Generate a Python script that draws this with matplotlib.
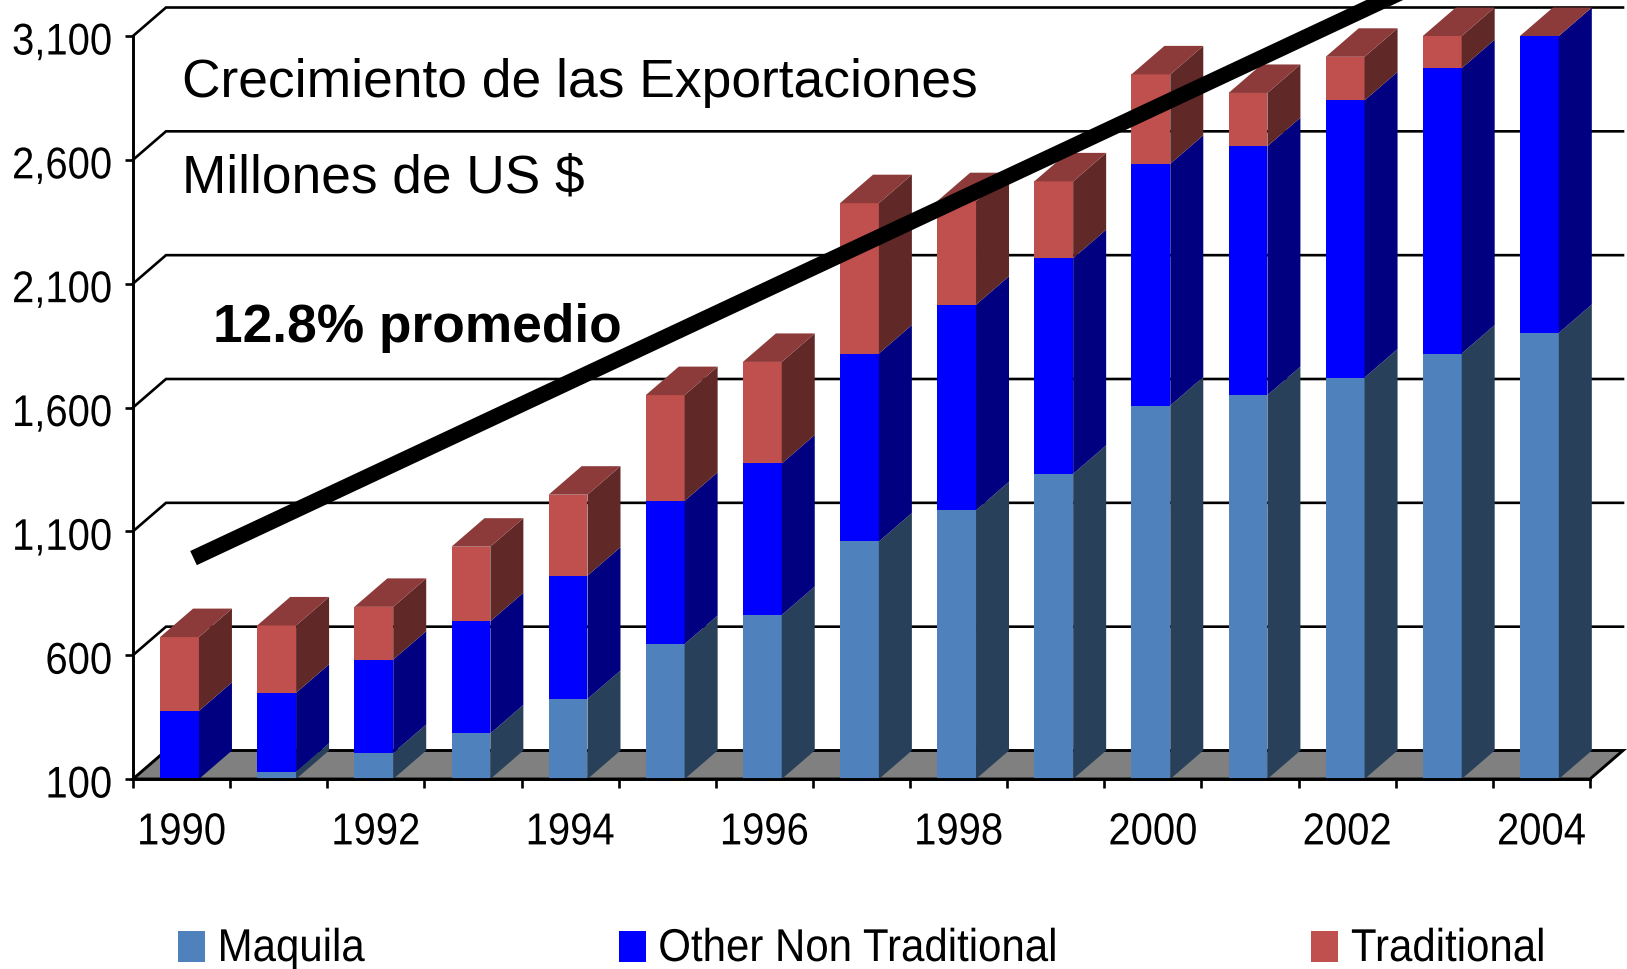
import matplotlib
matplotlib.use("Agg")
import matplotlib.pyplot as plt
import numpy as np
from matplotlib.collections import PolyCollection
from matplotlib.patches import Polygon
from matplotlib.patheffects import AbstractPathEffect
from matplotlib.transforms import Affine2D

years = list(range(1990, 2005))
maquila = [95, 129, 205, 284, 423, 645, 762, 1059, 1185, 1332, 1608, 1650, 1721, 1818, 1901]
other_nt = [280, 319, 377, 453, 498, 578, 612, 759, 830, 871, 976, 1005, 1119, 1152, 1199]
traditional = [298, 272, 213, 301, 327, 427, 410, 607, 418, 310, 361, 215, 176, 130, 0]
series_names = ["Maquila", "Other Non Traditional", "Traditional"]
y_ticks = [100, 600, 1100, 1600, 2100, 2600, 3100]
trend_x = [0.623, 13.25]
trend_y = [992, 3312]

W, H = 1627, 970
px = lambda p: p * 0.72
plt.rcParams["font.family"] = "Liberation Sans"


class Stretch(AbstractPathEffect):
    """Draws the glyphs taller than the font's own proportions (the original text is condensed)."""

    def __init__(self, sy, y0=0.0):
        super().__init__()
        self.sy, self.y0 = sy, y0

    def draw_path(self, renderer, gc, tpath, affine, rgbFace=None):
        t = Affine2D().translate(0, -self.y0).scale(1, self.sy).translate(0, self.y0) + affine
        renderer.draw_path(gc, tpath, t, rgbFace)


fig = plt.figure(figsize=(W / 100, H / 100), dpi=100, facecolor="white")
L, R, T, B = 133, 1590, 37, 780
ax = fig.add_axes([L / W, 1 - B / H, (R - L) / W, (B - T) / H])
ax.set_xlim(0, 15)
ax.set_ylim(100, 3100)
ax.patch.set_visible(False)
for s in ("top", "right"):
    ax.spines[s].set_visible(False)
for s in ("left", "bottom"):
    ax.spines[s].set_linewidth(2.1)
    ax.spines[s].set_zorder(6)

PX_X = (R - L) / 15
PX_Y = (B - T) / 3000
DX = 33 / PX_X
DY = 28.5 / PX_Y
BAR_W = 0.40
OFF = 0.479
x = np.arange(15)

# floor and wall
floor = Polygon([(0, 100), (15, 100), (15 + DX, 100 + DY), (DX, 100 + DY)],
                closed=True, fc="#808080", ec="black", lw=2.1, clip_on=False, zorder=1)
ax.add_patch(floor)
for yt in y_ticks[1:]:
    ax.plot([0, DX, 15 + DX], [yt, yt + DY, yt + DY], color="black", lw=1.9,
            clip_on=False, zorder=1, solid_joinstyle="miter")

# bars
faces = ["#4F81BD", "#0000FF", "#C0504D"]
sides = ["#284059", "#000080", "#602827"]
top_colour = "#8C3B3A"
segs = [np.array(maquila, float), np.array(other_nt, float), np.array(traditional, float)]
bottom = np.zeros(15)
side_polys, side_cols = [], []
for seg, fc, sc in zip(segs, faces, sides):
    ax.bar(x + OFF, seg, BAR_W, bottom=bottom, color=fc, lw=0, zorder=3)
    for i in range(15):
        lo = max(bottom[i], 100)
        hi = bottom[i] + seg[i]
        if hi <= lo:
            continue
        xr = x[i] + OFF + BAR_W / 2
        side_polys.append([(xr, lo), (xr + DX, lo + DY), (xr + DX, hi + DY), (xr, hi)])
        side_cols.append(sc)
    bottom = bottom + seg
ax.add_collection(PolyCollection(side_polys, facecolors=side_cols, edgecolors="none",
                                 clip_on=False, zorder=3))
top_polys = []
for i in range(15):
    xl = x[i] + OFF - BAR_W / 2
    xr = xl + BAR_W
    top_polys.append([(xl, bottom[i]), (xr, bottom[i]), (xr + DX, bottom[i] + DY), (xl + DX, bottom[i] + DY)])
ax.add_collection(PolyCollection(top_polys, facecolors=top_colour, edgecolors="none",
                                 clip_on=False, zorder=3))

# trend line: a filled band, so that its end runs off the canvas without being cut at the edge
THICK = 15.6
dxp = (trend_x[1] - trend_x[0]) * PX_X
dyp = (trend_y[1] - trend_y[0]) * PX_Y
norm = np.hypot(dxp, dyp)
nx, ny = -dyp / norm * THICK / 2 / PX_X, dxp / norm * THICK / 2 / PX_Y
ax.add_patch(Polygon([(trend_x[0] + nx, trend_y[0] + ny), (trend_x[1] + nx, trend_y[1] + ny),
                      (trend_x[1] - nx, trend_y[1] - ny), (trend_x[0] - nx, trend_y[0] - ny)],
                     closed=True, fc="black", lw=0, clip_on=False, zorder=5))

# axes ticks
ax.set_yticks(y_ticks)
ax.set_yticklabels([f"{v:,}" for v in y_ticks], fontsize=px(40))
ax.set_xticks(np.arange(16))
ax.set_xticklabels([])
ax.tick_params(axis="y", length=6, width=1.9, pad=9)
ax.tick_params(axis="x", length=6.5, width=1.9)
ax.set_xticks(np.arange(15) + 0.5, minor=True)
ax.set_xticklabels([str(y) if (y - 1990) % 2 == 0 else "" for y in years], minor=True, fontsize=px(40))
ax.tick_params(axis="x", which="minor", length=0, pad=25.5)
for lab in ax.get_yticklabels():
    lab.set_path_effects([Stretch(1.11, 80)])
for lab in ax.get_xticklabels(minor=True):
    lab.set_path_effects([Stretch(1.12)])

# annotations
fig.text(182 / W, 1 - 97 / H, "Crecimiento de las Exportaciones", fontsize=px(53.4), color="black", zorder=7)
fig.text(182 / W, 1 - 193 / H, "Millones de US $", fontsize=px(53.3), color="black", zorder=7)
fig.text(213 / W, 1 - 342 / H, "12.8% promedio", fontsize=px(53.2), fontweight="bold", color="black", zorder=7)

# legend
handles = [plt.Rectangle((0, 0), 1, 1, fc=c, lw=0) for c in faces]
leg = fig.legend(handles, series_names, loc="lower left", bbox_to_anchor=(178 / W, 1 - 971 / H), ncol=3,
                 frameon=False, prop={"size": px(42)},
                 borderpad=0, borderaxespad=0, handlelength=0.643, handleheight=0.762,
                 handletextpad=0.30, columnspacing=6.04)
for t in leg.get_texts():
    t.set_path_effects([Stretch(1.095)])

fig.savefig("out.png", dpi=100)
